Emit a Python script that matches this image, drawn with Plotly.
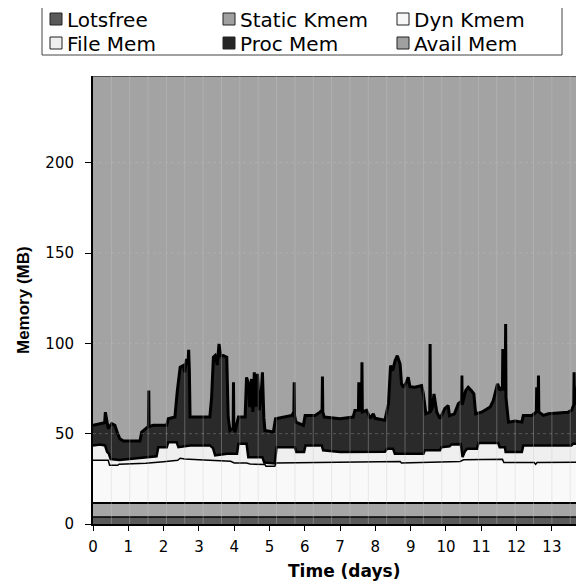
import plotly.graph_objects as go

# ---------------- data (cumulative boundary of each layer, MB) ----------------
lotsfree_days = [0.0, 13.91]
lotsfree_top = [3.9, 3.9]

static_days = [0.0, 13.91]
static_top = [11.6, 11.6]

dyn_days = [0, 0.43, 0.47, 0.70, 0.74, 1.5, 2.0, 2.40, 2.47, 2.60, 3.0, 3.5, 3.9, 4.0, 4.35,
            4.45, 4.87, 4.90, 5.15, 5.19, 6.0, 7.0, 8.0, 8.70, 8.74, 9.5, 10.4, 10.5, 11.0,
            11.6, 11.64, 12.5, 12.54, 12.58, 13.91]
dyn_top = [35.3, 35.3, 32.5, 32.5, 33.1, 33.6, 34.5, 35.3, 36.4, 36.0, 35.5, 35.0, 34.7, 33.8, 33.8,
           33.2, 33.0, 32.0, 32.0, 33.8, 34.0, 34.2, 34.4, 34.6, 33.8, 34.3, 34.6, 35.5, 35.8,
           35.8, 34.0, 34.0, 33.0, 34.0, 34.2]

file_days = [0, 0.2, 0.34, 0.40, 0.45, 0.50, 0.75, 1.0, 1.5, 1.80, 1.85, 2.09, 2.13, 2.37, 2.42,
             2.75, 3.31, 3.40, 3.46, 3.80, 4.08, 4.12, 4.35, 4.40, 4.80, 4.85, 5.15, 5.20, 5.72,
             5.76, 5.98, 6.02, 6.48, 6.52, 7.0, 7.5, 8.27, 8.33, 8.50, 8.55, 9.0, 9.36, 9.40,
             9.83, 9.87, 10.1, 10.15, 10.42, 10.47, 10.53, 10.60, 10.88, 10.92, 11.48, 11.52,
             11.67, 11.69, 12.15, 12.19, 13.55, 13.6, 13.91]
file_top = [43.5, 44.0, 43.5, 40.0, 38.9, 36.0, 35.5, 36.0, 37.0, 37.5, 42.5, 42.5, 45.2, 45.2, 42.5,
            43.5, 43.5, 42.0, 38.0, 38.9, 38.9, 44.4, 44.4, 37.0, 37.0, 34.0, 33.5, 42.5, 42.5,
            39.8, 39.8, 43.5, 43.5, 40.8, 39.8, 39.8, 40.0, 41.7, 41.7, 38.9, 39.0, 38.9, 40.8,
            40.8, 42.5, 43.0, 44.0, 44.2, 37.0, 40.0, 41.7, 41.7, 44.8, 44.8, 42.5,
            42.5, 39.8, 39.8, 43.5, 43.5, 44.4, 44.4]

proc_days = [0.00, 0.29, 0.33, 0.35, 0.37, 0.43, 0.53, 0.62, 0.70, 0.76, 0.86, 1.33, 1.38, 1.52,
             1.57, 1.58, 1.59, 1.71, 2.09, 2.13, 2.32, 2.39, 2.47, 2.56, 2.60, 2.65, 2.69, 2.71,
             2.73, 2.75, 2.94, 3.31, 3.36, 3.41, 3.46, 3.52, 3.57, 3.62, 3.69, 3.79, 3.83, 3.88,
             3.97, 3.98, 3.99, 4.02, 4.12, 4.31, 4.35, 4.40, 4.44, 4.49, 4.53, 4.57, 4.62, 4.66,
             4.71, 4.76, 4.80, 4.84, 4.87, 5.11, 5.17, 5.63, 5.69, 5.70, 5.71, 5.75, 5.96, 6.01,
             6.29, 6.43, 6.49, 6.50, 6.51, 6.55, 7.0, 7.37, 7.42, 7.52, 7.53, 7.54, 7.61, 7.62,
             7.63, 7.75, 7.85, 7.94, 7.99, 8.27, 8.37, 8.43, 8.49, 8.56, 8.62, 8.70, 8.74, 8.79,
             8.88, 8.93, 8.98, 9.12, 9.31, 9.36, 9.43, 9.54, 9.55, 9.56, 9.62, 9.66, 9.74, 9.83,
             9.97, 10.06, 10.10, 10.24, 10.35, 10.44, 10.45, 10.46, 10.56, 10.63, 10.71, 10.79,
             10.84, 11.01, 11.25, 11.34, 11.46, 11.53, 11.60, 11.61, 11.62, 11.68, 11.69, 11.70,
             11.77, 11.96, 12.15, 12.19, 12.43, 12.56, 12.57, 12.58, 12.61, 12.62, 12.63, 12.76,
             12.90, 13.46, 13.56, 13.62, 13.63, 13.64, 13.72, 13.75, 13.84, 13.91]
proc_top = [54.6, 55.5, 56.0, 61.9, 59.2, 52.8, 55.5, 54.6, 50.0, 47.2, 45.9, 45.9, 50.9, 53.6,
            54.0, 73.9, 54.0, 54.6, 54.6, 58.3, 59.2, 73.9, 86.8, 87.7, 84.0, 91.4, 88.0, 96.4,
            85.0, 59.2, 59.2, 59.2, 70.0, 92.3, 93.2, 88.0, 99.7, 93.0, 93.2, 92.3, 59.2, 51.8,
            53.0, 78.5, 53.0, 50.9, 59.2, 59.2, 81.2, 78.0, 64.7, 80.3, 62.0, 84.0, 65.0, 83.1,
            63.0, 70.0, 84.0, 59.0, 51.8, 50.9, 58.3, 60.1, 62.0, 78.5, 60.0, 56.4, 54.6, 60.1,
            60.1, 61.9, 63.0, 81.6, 62.0, 59.2, 58.3, 59.2, 62.9, 63.0, 78.5, 63.0, 63.0, 89.5,
            62.0, 62.9, 58.5, 61.0, 58.5, 57.4, 66.6, 87.7, 84.9, 90.5, 93.2, 88.6, 77.6, 75.7,
            78.5, 81.2, 76.0, 75.7, 76.6, 72.0, 61.0, 62.0, 99.7, 62.0, 65.0, 72.0, 61.9, 58.3,
            64.0, 65.6, 60.0, 61.0, 66.6, 68.0, 82.2, 66.0, 73.9, 75.7, 74.0, 72.0,
            61.0, 61.9, 64.7, 68.3, 77.6, 74.0, 76.0, 96.9, 74.0, 78.0, 110.7, 70.0,
            56.4, 57.0, 56.4, 60.1, 60.1, 62.0, 75.7, 62.0, 64.0, 82.2, 62.0, 60.1,
            61.0, 61.9, 63.0, 66.0, 84.0, 66.0, 75.0, 84.9, 85.8, 91.4]

avail_days = [0.0, 13.91]
avail_top = [248.0, 248.0]

layer_names = ["Lotsfree", "Static Kmem", "Dyn Kmem", "File Mem", "Proc Mem", "Avail Mem"]
layer_colors = ["#5a5a5a", "#a6a6a6", "#f9f9f9", "#efefef", "#2a2a2a", "#a3a3a3"]
legend_colors = ["#595959", "#a0a0a0", "#f7f7f7", "#eeeeee", "#262626", "#a0a0a0"]
layer_x = [lotsfree_days, static_days, dyn_days, file_days, proc_days, avail_days]
layer_y = [lotsfree_top, static_top, dyn_top, file_top, proc_top, avail_top]
line_widths = [1.5, 2.0, 1.5, 2.5, 3.0, 1.0]

x_ticks = list(range(0, 14))
y_ticks = [0, 50, 100, 150, 200]

FONT = "DejaVu Sans, Arial, sans-serif"
BFONT = "Liberation Sans, Arial, sans-serif"

fig = go.Figure()
for i, (nm, col, xs, ys, lw) in enumerate(zip(layer_names, layer_colors, layer_x, layer_y, line_widths)):
    fig.add_trace(go.Scatter(
        x=xs, y=ys, name=nm, mode="lines",
        line=dict(color="black", width=lw),
        fill="tozeroy" if i == 0 else "tonexty",
        fillcolor=col, showlegend=False, hoverinfo="skip"))

# geometry: the page body has an 8 px margin, so the figure starts at (8, 8) on screen
OFF = 8
W, H = 576, 574
ML, MR, MT, MB = 85, 0, 68, 58
PW, PH = W - ML - MR, H - MT - MB

def px(sx):
    return (sx - OFF - ML) / PW

def py(sy):
    return (H - MB - (sy - OFF)) / PH

shapes = []
# faint grid drawn over the areas
for k in range(1, 27):
    shapes.append(dict(type="line", xref="x", yref="paper", x0=k * 13 / 25, x1=k * 13 / 25, y0=0, y1=1,
                       line=dict(color="rgba(200,200,200,0.35)", width=1), layer="above"))
for v in [50, 100, 150, 200]:
    shapes.append(dict(type="line", xref="paper", yref="y", x0=0, x1=1, y0=v, y1=v,
                       line=dict(color="rgba(200,200,200,0.3)", width=1, dash="dot"), layer="above"))

# manual legend box
shapes.append(dict(type="rect", xref="paper", yref="paper", x0=px(42), x1=px(562), y0=py(55), y1=py(5),
                   line=dict(color="#444444", width=1), fillcolor="white", layer="above"))
annotations = []
col_x = [50, 223, 397]
row_y = [19, 43]
order = [(0, 0), (0, 1), (0, 2), (1, 0), (1, 1), (1, 2)]
for (r, c), nm, colr in zip(order, layer_names, legend_colors):
    sx, sy = col_x[c], row_y[r]
    shapes.append(dict(type="rect", xref="paper", yref="paper",
                       x0=px(sx), x1=px(sx + 12), y0=py(sy + 6), y1=py(sy - 6),
                       line=dict(color="#222222", width=1), fillcolor=colr, layer="above"))
    annotations.append(dict(text=nm, xref="paper", yref="paper", x=px(sx + 15), y=py(sy + 1),
                            xanchor="left", yanchor="middle", showarrow=False,
                            font=dict(family=FONT, size=20, color="black")))

annotations.append(dict(text="<b>Time (days)</b>", xref="paper", yref="paper", x=px(344), y=py(571),
                        xanchor="center", yanchor="middle", showarrow=False,
                        font=dict(family=FONT, size=17, color="black")))
annotations.append(dict(text="<b>Memory (MB)</b>", xref="paper", yref="paper", x=px(23), y=py(300),
                        xanchor="center", yanchor="middle", showarrow=False, textangle=-90,
                        font=dict(family=BFONT, size=17, color="black")))

fig.update_layout(
    width=W, height=H,
    margin=dict(l=ML, r=MR, t=MT, b=MB),
    paper_bgcolor="white", plot_bgcolor="#a3a3a3",
    showlegend=False,
    shapes=shapes, annotations=annotations,
    xaxis=dict(range=[0, 13.91], tickvals=x_ticks, ticks="outside", ticklen=5, tickwidth=1,
               tickcolor="black", showline=True, linecolor="black", linewidth=1.5,
               showgrid=False, zeroline=False, layer="above traces", ticklabelstandoff=3,
               tickfont=dict(family=FONT, size=15, color="black")),
    yaxis=dict(range=[0, 248], tickvals=y_ticks, ticks="outside", ticklen=6, tickwidth=1,
               tickcolor="black", showline=True, linecolor="black", linewidth=2,
               showgrid=False, zeroline=False, layer="above traces", ticklabelstandoff=8,
               tickfont=dict(family=FONT, size=15, color="black")),
)

fig.write_html("out.html")
